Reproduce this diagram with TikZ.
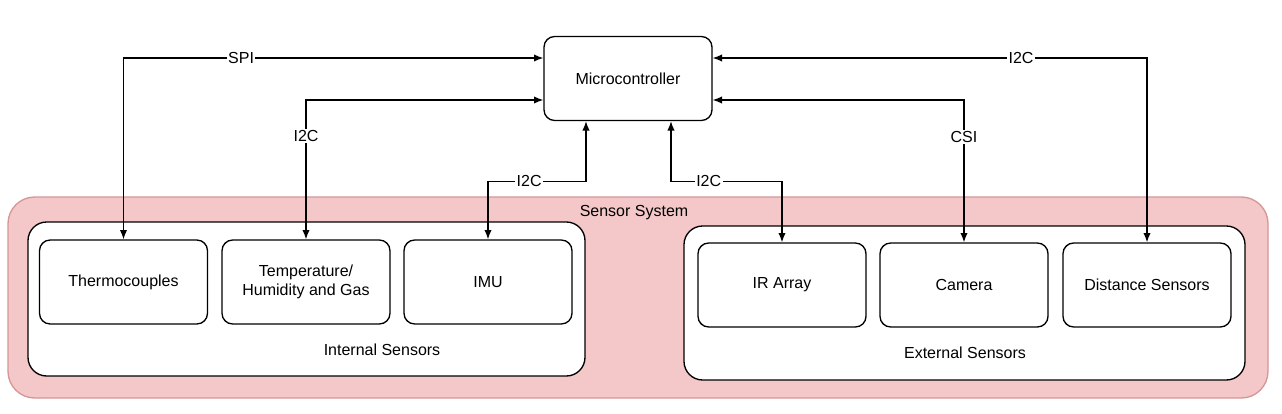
\documentclass[tikz,border=0pt]{standalone}
\usepackage{fontspec}
\setmainfont{Liberation Sans}
\usetikzlibrary{arrows.meta,calc}

\definecolor{pinkfill}{RGB}{244,200,200}
\definecolor{pinkline}{RGB}{214,150,150}

\begin{document}
\begin{tikzpicture}[x=0.75pt, y=-0.75pt, >={Latex[length=7pt,width=5.5pt]},
    every node/.style={font=\fontsize{12}{14.5}\selectfont},
    box/.style={draw, rounded corners=8pt, line width=1pt, fill=white,
        minimum width=126pt, minimum height=63pt, align=center},
    lbl/.style={fill=white, inner sep=1pt},
    link/.style={<->, line width=1pt}]

    \useasboundingbox (0,0) rectangle (1282,414);

    \draw[fill=pinkfill, draw=pinkline, line width=1pt, rounded corners=20pt] (8,197) rectangle (1268,398);
    \node (sys) at (634,213) {Sensor System};

    \draw[fill=white, line width=1pt, rounded corners=14pt] (28,222) rectangle (585,376);
    \node (intl) at (382,350) {Internal Sensors};
    \draw[fill=white, line width=1pt, rounded corners=14pt] (684,226) rectangle (1245,380);
    \node (extl) at (965,353) {External Sensors};

    \node[box] (micro) at (628,78.5) {Microcontroller};

    \node[box] (thermo) at (123.5,282) {Thermocouples};
    \node[box] (temphum) at (306,282) {Temperature/\\Humidity and Gas};
    \node[box] (imu) at (488,282) {IMU};

    \node[box] (irarr) at (782,285) {IR Array};
    \node[box] (camera) at (964,285) {Camera};
    \node[box] (dist) at (1147,285) {Distance Sensors};

    \draw[link] ($(micro.west)+(0,-20.5)$) -| node[lbl, pos=0.36] {SPI} (thermo.north);
    \draw[link] ($(micro.west)+(0,21.5)$) -| node[lbl, pos=0.63] {I2C} (temphum.north);
    \draw[link] (imu.north) |- node[lbl, pos=0.71] {I2C} ($(micro.south)+(-42,60)$) -- ($(micro.south)+(-42,0)$);
    \draw[link] (irarr.north) |- node[lbl, pos=0.83] {I2C} ($(micro.south)+(43,60)$) -- ($(micro.south)+(43,0)$);
    \draw[link] ($(micro.east)+(0,21.5)$) -| node[lbl, pos=0.63] {CSI} (camera.north);
    \draw[link] ($(micro.east)+(0,-20.5)$) -| node[lbl, pos=0.355] {I2C} (dist.north);
\end{tikzpicture}
\end{document}
